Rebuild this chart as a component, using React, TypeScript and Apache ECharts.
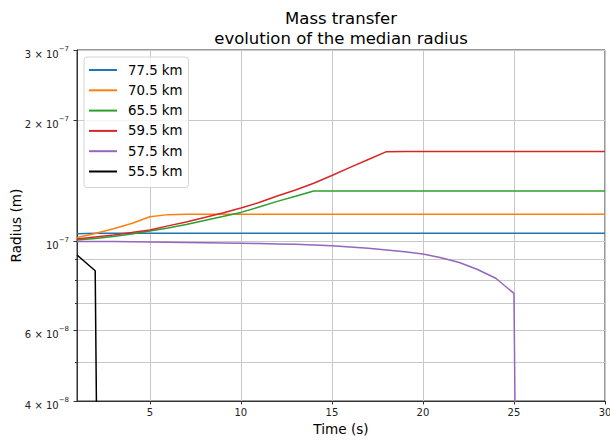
import React, { useEffect, useRef } from 'react';
import * as echarts from 'echarts';

const FONT = 'DejaVu Sans';

const seriesNames = ['77.5 km', '70.5 km', '65.5 km', '59.5 km', '57.5 km', '55.5 km'];
const seriesColors = ['#1f77b4', '#ff7f0e', '#2ca02c', '#d62728', '#9467bd', '#000000'];

const times30 = [1, 2, 3, 4, 5, 6, 7, 8, 9, 10, 11, 12, 13, 14, 15, 16, 17, 18, 19, 20, 21, 22, 23, 24, 25, 26, 27, 28, 29, 30];
const times26 = [1, 2, 3, 4, 5, 6, 7, 8, 9, 10, 11, 12, 13, 14, 15, 16, 17, 18, 19, 20, 21, 22, 23, 24, 25, 26];
const times3 = [1, 2, 3];

const r775 = [1.045e-7, 1.048e-7, 1.048e-7, 1.048e-7, 1.048e-7, 1.048e-7, 1.048e-7, 1.048e-7, 1.048e-7, 1.048e-7,
  1.048e-7, 1.048e-7, 1.048e-7, 1.048e-7, 1.048e-7, 1.048e-7, 1.048e-7, 1.048e-7, 1.048e-7, 1.048e-7,
  1.048e-7, 1.048e-7, 1.048e-7, 1.048e-7, 1.048e-7, 1.048e-7, 1.048e-7, 1.048e-7, 1.048e-7, 1.048e-7];
const r705 = [1.023e-7, 1.046e-7, 1.075e-7, 1.108e-7, 1.152e-7, 1.166e-7, 1.169e-7, 1.169e-7, 1.169e-7, 1.169e-7,
  1.169e-7, 1.169e-7, 1.169e-7, 1.169e-7, 1.169e-7, 1.169e-7, 1.169e-7, 1.169e-7, 1.169e-7, 1.169e-7,
  1.169e-7, 1.169e-7, 1.169e-7, 1.169e-7, 1.169e-7, 1.169e-7, 1.169e-7, 1.169e-7, 1.169e-7, 1.169e-7];
const r655 = [1.008e-7, 1.017e-7, 1.029e-7, 1.043e-7, 1.062e-7, 1.080e-7, 1.102e-7, 1.128e-7, 1.154e-7, 1.181e-7,
  1.218e-7, 1.258e-7, 1.296e-7, 1.336e-7, 1.336e-7, 1.336e-7, 1.336e-7, 1.336e-7, 1.336e-7, 1.336e-7,
  1.336e-7, 1.336e-7, 1.336e-7, 1.336e-7, 1.336e-7, 1.336e-7, 1.336e-7, 1.336e-7, 1.336e-7, 1.336e-7];
const r595 = [1.014e-7, 1.026e-7, 1.037e-7, 1.052e-7, 1.068e-7, 1.093e-7, 1.118e-7, 1.147e-7, 1.177e-7, 1.211e-7,
  1.250e-7, 1.298e-7, 1.343e-7, 1.396e-7, 1.460e-7, 1.529e-7, 1.600e-7, 1.674e-7, 1.676e-7, 1.676e-7,
  1.676e-7, 1.676e-7, 1.676e-7, 1.676e-7, 1.676e-7, 1.676e-7, 1.676e-7, 1.676e-7, 1.676e-7, 1.676e-7];
const r575 = [1.000e-7, 0.9995e-7, 0.9988e-7, 0.9975e-7, 0.9960e-7, 0.9948e-7, 0.9935e-7, 0.9921e-7, 0.9906e-7, 0.9891e-7,
  0.9874e-7, 0.9855e-7, 0.9832e-7, 0.9800e-7, 0.9758e-7, 0.9683e-7, 0.9611e-7, 0.9518e-7, 0.9426e-7, 0.9302e-7,
  0.9108e-7, 0.8858e-7, 0.8511e-7, 0.8091e-7, 0.7417e-7, 1e-12];
const r555 = [0.925e-7, 0.845e-7, 1e-12];

const seriesTimes = [times30, times30, times30, times30, times26, times3];
const seriesValues = [r775, r705, r655, r595, r575, r555];

const xTicks = [5, 10, 15, 20, 25, 30];
const xMin = 1;
const xMax = 30;
const yMin = 4e-8;
const yMax = 3e-7;
const yMajorTicks = [4e-8, 6e-8, 1e-7, 2e-7, 3e-7];
const yMajorMantissa = ['4 × ', '6 × ', '', '2 × ', '3 × '];
const yMajorExponent = ['−8', '−8', '−7', '−7', '−7'];
const yMinorTicks = [5e-8, 7e-8, 8e-8, 9e-8];

const lg = (v: number) => Math.log10(v);

export default function App() {
  const ref = useRef<HTMLDivElement>(null);
  useEffect(() => {
    if (!ref.current) return;
    const chart = echarts.init(ref.current, undefined, { renderer: 'svg' });
    const yLabelFormatter = (val: number) => {
      const i = yMajorTicks.findIndex((v) => Math.abs(lg(v) - val) < 1e-6);
      if (i < 0) return '';
      return `{m|${yMajorMantissa[i]}10}{e|${yMajorExponent[i]}}`;
    };
    chart.setOption({
      animation: false,
      backgroundColor: '#ffffff',
      title: {
        text: 'Mass transfer\nevolution of the median radius',
        left: 341,
        top: 8,
        padding: 0,
        textAlign: 'center',
        textStyle: { fontFamily: FONT, fontSize: 16.5, fontWeight: 'normal', color: '#000', lineHeight: 20 },
      },
      legend: {
        orient: 'vertical',
        left: 84,
        top: 57,
        icon: 'rect',
        itemWidth: 28,
        itemHeight: 2,
        itemGap: 0.3,
        padding: [3, 6, 6, 5],
        borderColor: '#d4d4d4',
        borderWidth: 1,
        borderRadius: 3,
        backgroundColor: 'rgba(255,255,255,0.8)',
        textStyle: { fontFamily: FONT, fontSize: 13.3, color: '#000', lineHeight: 20, padding: [0, 0, 0, 6] },
        data: seriesNames,
      },
      grid: {
        left: 77, right: 5, top: 50, bottom: 39,
        outerBoundsMode: 'none',
        containLabel: false,
        show: true, borderColor: '#333', borderWidth: 1, backgroundColor: 'transparent',
      },
      xAxis: {
        type: 'value',
        min: xMin,
        max: xMax,
        name: 'Time (s)',
        nameLocation: 'middle',
        nameGap: 21,
        nameMoveOverlap: false,
        nameTextStyle: { fontFamily: FONT, fontSize: 13.6, color: '#000' },
        axisLine: { show: true, lineStyle: { color: '#333' } },
        axisTick: { show: true, length: 3.5, customValues: xTicks, lineStyle: { color: '#333' } },
        axisLabel: { customValues: xTicks, fontFamily: FONT, fontSize: 10, color: '#222', margin: 6 },
        splitLine: { show: true, lineStyle: { color: '#c8c8c8', width: 1 } },
      },
      yAxis: [
        {
          type: 'value',
          min: lg(yMin),
          max: lg(yMax),
          name: 'Radius (m)',
          nameLocation: 'middle',
          nameGap: 54,
          nameMoveOverlap: false,
          nameTextStyle: { fontFamily: FONT, fontSize: 13.6, color: '#000' },
          axisLine: { show: true, lineStyle: { color: '#333' } },
          axisTick: { show: true, length: 3.5, customValues: yMajorTicks.map(lg), lineStyle: { color: '#333' } },
          axisLabel: {
            customValues: yMajorTicks.map(lg),
            formatter: yLabelFormatter,
            margin: 8,
            padding: [4, 0, 0, 0],
            rich: {
              m: { fontFamily: FONT, fontSize: 10, color: '#222', lineHeight: 14, verticalAlign: 'bottom' },
              e: { fontFamily: FONT, fontSize: 7, color: '#222', lineHeight: 6, verticalAlign: 'top' },
            },
          },
          splitLine: { show: true, lineStyle: { color: '#c8c8c8', width: 1 } },
        },
        {
          type: 'value',
          min: lg(yMin),
          max: lg(yMax),
          position: 'left',
          axisLine: { show: false },
          axisTick: { show: true, length: 2, customValues: yMinorTicks.map(lg), lineStyle: { color: '#333' } },
          axisLabel: { show: false },
          splitLine: { show: true, lineStyle: { color: '#c8c8c8', width: 1 } },
        },
      ],
      series: seriesNames.map((name, k) => ({
        name,
        type: 'line',
        yAxisIndex: 0,
        symbol: 'none',
        showSymbol: false,
        clip: true,
        color: seriesColors[k],
        lineStyle: { color: seriesColors[k], width: 1.5 },
        data: seriesTimes[k].map((t, i) => [t, lg(seriesValues[k][i])]),
      })),
    });
    return () => chart.dispose();
  }, []);
  return <div ref={ref} style={{ position: 'fixed', left: 0, top: 0, width: 610, height: 440 }} />;
}
